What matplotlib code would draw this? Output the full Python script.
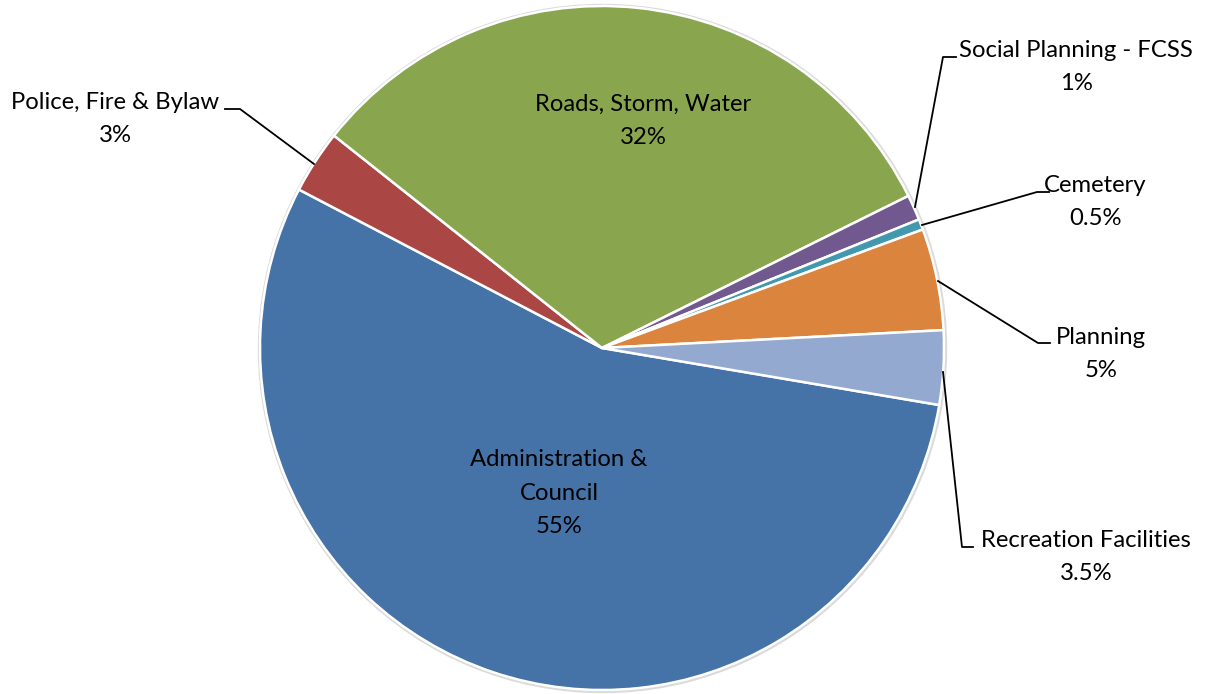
import matplotlib
matplotlib.use("Agg")
from matplotlib import pyplot as plt
from matplotlib.patches import Circle

# budget shares (%) in drawing order, clockwise
categories = ["Administration &\nCouncil", "Police, Fire & Bylaw", "Roads, Storm, Water",
              "Social Planning - FCSS", "Cemetery", "Planning", "Recreation Facilities"]
values = [55, 3, 32, 1.2, 0.5, 4.8, 3.5]
pct_labels = ["55%", "3%", "32%", "1%", "0.5%", "5%", "3.5%"]
colors = ["#4572A7", "#AA4643", "#89A54E", "#71588F", "#4198AF", "#DB843D", "#93A9CF"]

W, H = 1207, 694
plt.rcParams["font.family"] = ["Lato", "DejaVu Sans"]

fig = plt.figure(figsize=(W / 100, H / 100), dpi=100)
ax = fig.add_axes([0, 0, 1, 1])

cx, cy, r = 602, H - 348, 342

# faint shadow ring around the pie
ax.add_patch(Circle((cx + 0.5, cy - 0.5), r + 2, color="#dadada", zorder=0))

ax.pie(values, colors=colors, startangle=-9.6, counterclock=False,
       center=(cx, cy), radius=r, frame=True,
       wedgeprops=dict(edgecolor="white", linewidth=1.8))

fs = 17.2
ls = 1.72
# labels inside the big slices
ax.text(643, H - 121, categories[2] + "\n" + pct_labels[2], ha="center", va="center",
        fontsize=fs, linespacing=ls)
ax.text(559, H - 493, categories[0] + "\n" + pct_labels[0], ha="center", va="center",
        fontsize=fs, linespacing=ls)

# outside labels: (index, text center, leader line points)
outside = [
    (1, (115, 119), [(225, 109), (240, 109), (314, 164)]),
    (3, (1076, 67), [(956, 57), (943, 57), (915, 207)]),
    (4, (1095, 202), [(1049, 192), (1037, 192), (922, 225)]),
    (5, (1101, 354), [(1050, 343), (1038, 343), (938, 281)]),
    (6, (1086, 557), [(973, 547), (962, 547), (943, 372)]),
]
for i, (tx, ty), pts in outside:
    ax.text(tx, H - ty, categories[i] + "\n" + pct_labels[i], ha="center", va="center",
            fontsize=fs, linespacing=ls)
    ax.plot([p[0] for p in pts], [H - p[1] for p in pts], color="black", lw=1.3)

ax.set_xlim(0, W)
ax.set_ylim(0, H)
ax.set_aspect("auto")
ax.axis("off")

fig.savefig("out.png", dpi=100)
